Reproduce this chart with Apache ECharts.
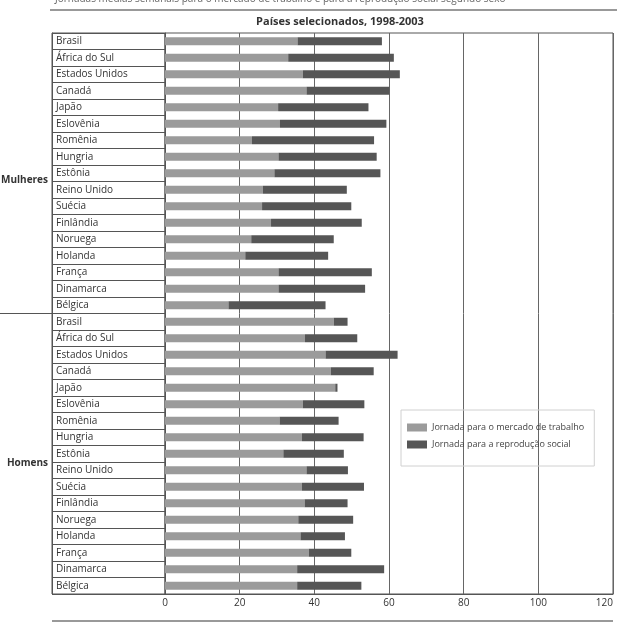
<!DOCTYPE html>
<html><head><meta charset="utf-8">
<script src="https://cdn.jsdelivr.net/npm/echarts@6/dist/echarts.min.js"></script>
<style>html,body{margin:0;padding:0;background:#fff}#c{width:617px;height:627px}</style>
</head><body><div id="c"></div>
<script>
const countries = ["Brasil","África do Sul","Estados Unidos","Canadá","Japão","Eslovênia","Romênia","Hungria","Estônia","Reino Unido","Suécia","Finlândia","Noruega","Holanda","França","Dinamarca","Bélgica"];
const womenWork   = [35.5,33.0,36.9,37.9,30.3,30.8,23.3,30.4,29.3,26.2,26.0,28.4,23.1,21.5,30.4,30.4,17.0];
const womenSocial = [22.6,28.3,26.0,22.2,24.2,28.5,32.7,26.3,28.4,22.5,23.9,24.3,22.1,22.2,25.0,23.2,26.0];
const menWork     = [45.2,37.5,43.0,44.4,45.6,36.9,30.7,36.7,31.7,37.9,36.7,37.4,35.7,36.3,38.5,35.4,35.4];
const menSocial   = [3.7,14.0,19.3,11.5,0.6,16.5,15.8,16.5,16.2,11.1,16.6,11.5,14.7,11.9,11.4,23.3,17.2];
const xTicks = [0,20,40,60,80,100,120];
const seriesNames = ["Jornada para o mercado de trabalho","Jornada para a reprodução social"];
const groupNames = ["Mulheres","Homens"];
const title = "Países selecionados, 1998-2003";
const topText = "Jornadas médias semanais para o mercado de trabalho e para a reprodução social segundo sexo";

const cats = countries.concat(countries);
const work = womenWork.concat(menWork);
const social = womenSocial.concat(menSocial);
const FONT = "'Open Sans', 'Noto Sans', sans-serif";
const chart = echarts.init(document.getElementById('c'), null, {renderer:'canvas'});
const TOP = 33, BOTTOM = 33;
chart.setOption({
  animation:false,
  textStyle:{fontFamily:FONT},
  title:{text:title,left:335,textAlign:'center',top:11,textStyle:{fontSize:11,fontWeight:'bold',color:'#333',fontFamily:FONT}},
  legend:{
    data:seriesNames, orient:'vertical', left:401, top:410,
    itemWidth:20, itemHeight:8, itemGap:8, icon:'rect',
    padding:[13,10,17,6], borderColor:'#d0d0d0', borderWidth:1,
    textStyle:{fontSize:9,color:'#444',fontFamily:FONT}
  },
  grid:[
    {left:165,right:4,top:TOP,bottom:BOTTOM,show:true,borderColor:'#555',borderWidth:1,outerBoundsMode:'none',containLabel:false},
    {left:52,width:113,top:TOP,bottom:BOTTOM,show:true,borderColor:'#555',borderWidth:1,outerBoundsMode:'none',containLabel:false}
  ],
  xAxis:[
    {gridIndex:0,type:'value',min:0,max:120,interval:20,
     axisLine:{show:true,lineStyle:{color:'#555'}},axisTick:{show:false},
     splitLine:{show:true,lineStyle:{color:'#666',width:1}},
     axisLabel:{fontSize:10,color:'#333',margin:4,fontFamily:FONT,alignMaxLabel:'right',
       formatter:v=>xTicks.includes(v)?String(v):''}},
    {gridIndex:1,type:'value',min:0,max:1,show:false}
  ],
  yAxis:[
    {gridIndex:0,type:'category',data:cats,inverse:true,
     axisLabel:{show:false},axisTick:{show:false},axisLine:{show:true,lineStyle:{color:'#555'}},splitLine:{show:false}},
    {gridIndex:1,type:'category',data:cats,inverse:true,
     axisTick:{show:false},axisLine:{show:true,lineStyle:{color:'#555'}},
     splitLine:{show:true,lineStyle:{color:'#555',width:1}},
     axisLabel:{inside:true,interval:0,margin:4,fontSize:10,color:'#333',fontFamily:FONT}}
  ],
  series:[
    {name:seriesNames[0],type:'bar',stack:'t',data:work,barWidth:8,itemStyle:{color:'#9b9b9b'},xAxisIndex:0,yAxisIndex:0},
    {name:seriesNames[1],type:'bar',stack:'t',data:social,barWidth:8,itemStyle:{color:'#565656'},xAxisIndex:0,yAxisIndex:0}
  ],
  graphic:[
    {type:'text',left:55,top:-6,style:{text:topText,font:'10px '+FONT,fill:'#666'}},
    {type:'line',shape:{x1:50,y1:10,x2:617,y2:10},style:{stroke:'#999',lineWidth:2}},
    {type:'line',shape:{x1:52,y1:621,x2:613,y2:621},style:{stroke:'#999',lineWidth:2}},
    {type:'line',shape:{x1:0,y1:313.5,x2:52,y2:313.5},style:{stroke:'#555',lineWidth:1}},
    {type:'text',right:569,top:175,style:{text:groupNames[0],font:'bold 10px '+FONT,fill:'#333',textAlign:'right'}},
    {type:'text',right:569,top:458,style:{text:groupNames[1],font:'bold 10px '+FONT,fill:'#333',textAlign:'right'}}
  ]
});
</script></body></html>
